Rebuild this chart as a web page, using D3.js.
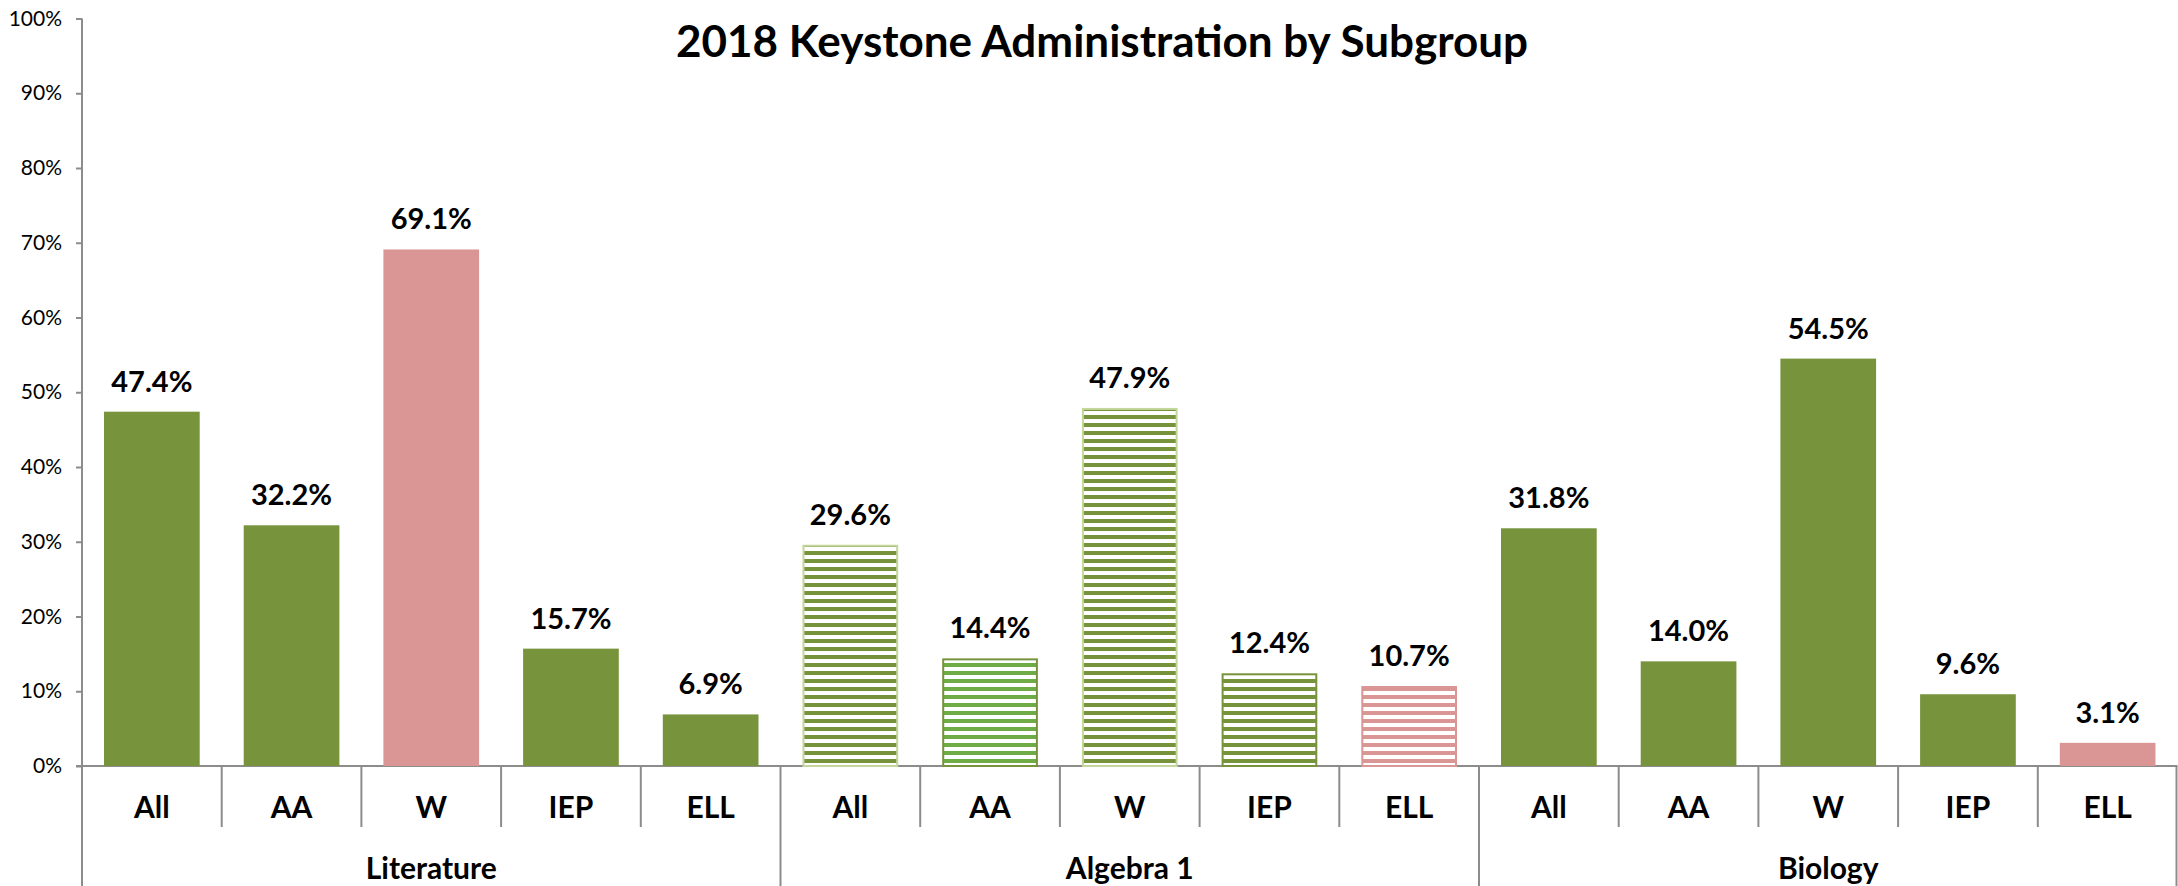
<!DOCTYPE html>
<html>
<head>
<meta charset="utf-8">
<script src="https://cdn.jsdelivr.net/npm/d3@7"></script>
<style>
  body { margin: 0; background: #fff; }
  svg { display: block; }
</style>
</head>
<body>
<div id="chart"></div>
<script>
// data
var groups = ["Literature", "Algebra 1", "Biology"];
var subgroups = ["All", "AA", "W", "IEP", "ELL"];
var literature = [47.4, 32.2, 69.1, 15.7, 6.9];
var algebra = [29.6, 14.4, 47.9, 12.4, 10.7];
var biology = [31.8, 14.0, 54.5, 9.6, 3.1];
var yTicks = [0, 10, 20, 30, 40, 50, 60, 70, 80, 90, 100];

// styles
var olive = "#77933c";
var pink = "#d99694";
var lightGreen = "#c3d69b";
var brightGreen = "#6fac46";
var axisColor = "#8c8c8c";
var fontFamily = "Lato, 'Open Sans', sans-serif";

// which bars are striped, and their colours (by group/subgroup)
var stripeColor = {"All": olive, "AA": brightGreen, "W": olive, "IEP": olive, "ELL": pink};
var stripeBorder = {"All": lightGreen, "AA": olive, "W": lightGreen, "IEP": olive, "ELL": pink};
var solidColor = function(group, sub){
	if (group == "Literature" && sub == "W") return pink;
	if (group == "Biology" && sub == "ELL") return pink;
	return olive;
};

const width = 2178;
const height = 886;
var plotLeft = 82, plotRight = 2177.5, plotTop = 18.5, base = 766;

var data = [];
[literature, algebra, biology].forEach(function(vals, gi){
	vals.forEach(function(v, si){
		data.push({group: groups[gi], sub: subgroups[si], value: v});
	});
});

var svg = d3.select("#chart")
	.append("svg")
	.attr("width", width)
	.attr("height", height);

var defs = svg.append("defs");
subgroups.forEach(function(s){
	var p = defs.append("pattern")
		.attr("id", "stripe-" + s)
		.attr("patternUnits", "userSpaceOnUse")
		.attr("width", 8).attr("height", 8)
		.attr("y", base % 8);
	p.append("rect").attr("width", 8).attr("height", 8).attr("fill", "#fff");
	p.append("rect").attr("y", 1).attr("width", 8).attr("height", 4).attr("fill", stripeColor[s]);
});

// scales
var y = d3.scaleLinear().domain([0, 100]).range([base, plotTop]);
var x0 = d3.scaleBand().domain(groups).range([plotLeft, plotRight]).padding(0);
var x1 = d3.scaleBand().domain(subgroups).range([0, x0.bandwidth()])
	.paddingInner(0.315).paddingOuter(0.1575);
var step = x0.bandwidth() / subgroups.length;

// title
svg.append("text")
	.attr("x", 1102).attr("y", 57)
	.attr("text-anchor", "middle")
	.style("font-family", fontFamily)
	.style("font-weight", "bold")
	.style("font-size", "44px")
	.text("2018 Keystone Administration by Subgroup");

// y axis
var yAxis = svg.append("g")
	.attr("transform", "translate(" + plotLeft + ",0)")
	.call(d3.axisLeft(y).tickValues(yTicks).tickSize(6).tickPadding(14)
		.tickFormat(function(d){ return d + "%"; }));
yAxis.select(".domain").remove();
yAxis.selectAll(".tick line").attr("stroke", axisColor).attr("stroke-width", 2);
yAxis.selectAll(".tick text")
	.style("font-family", fontFamily)
	.style("font-size", "21px")
	.attr("fill", "#000");

var lines = svg.append("g").attr("stroke", axisColor).attr("stroke-width", 2);
lines.append("line").attr("x1", plotLeft).attr("x2", plotLeft).attr("y1", plotTop).attr("y2", height);
lines.append("line").attr("x1", plotLeft - 6).attr("x2", plotRight).attr("y1", base).attr("y2", base);
lines.append("line").attr("x1", plotRight - 1).attr("x2", plotRight - 1).attr("y1", base).attr("y2", height);

groups.forEach(function(g){
	if (x0(g) > plotLeft) {
		lines.append("line").attr("x1", x0(g)).attr("x2", x0(g)).attr("y1", base).attr("y2", height);
	}
	for (var i = 1; i < subgroups.length; i++) {
		var xx = x0(g) + i * step;
		lines.append("line").attr("x1", xx).attr("x2", xx).attr("y1", base).attr("y2", 827);
	}
});

// bars
var bars = svg.append("g");
bars.selectAll("rect")
	.data(data)
	.enter().append("rect")
	.attr("x", function(d){ return x0(d.group) + x1(d.sub) + (d.group == "Algebra 1" ? 1 : 0); })
	.attr("y", function(d){ return y(d.value) + (d.group == "Algebra 1" ? 1 : 0); })
	.attr("width", function(d){ return x1.bandwidth() - (d.group == "Algebra 1" ? 2 : 0); })
	.attr("height", function(d){ return base - y(d.value) - (d.group == "Algebra 1" ? 1 : 0); })
	.attr("fill", function(d){
		return d.group == "Algebra 1" ? "url(#stripe-" + d.sub + ")" : solidColor(d.group, d.sub);
	})
	.attr("stroke", function(d){ return d.group == "Algebra 1" ? stripeBorder[d.sub] : "none"; })
	.attr("stroke-width", 2);

// value labels
svg.append("g").selectAll("text")
	.data(data)
	.enter().append("text")
	.attr("x", function(d){ return x0(d.group) + x1(d.sub) + x1.bandwidth() / 2; })
	.attr("y", function(d){ return y(d.value) - 20; })
	.attr("text-anchor", "middle")
	.style("font-family", fontFamily)
	.style("font-weight", "bold")
	.style("font-size", "29px")
	.text(function(d){ return d.value.toFixed(1) + "%"; });

// category labels
svg.append("g").selectAll("text")
	.data(data)
	.enter().append("text")
	.attr("x", function(d){ return x0(d.group) + x1(d.sub) + x1.bandwidth() / 2; })
	.attr("y", 818)
	.attr("text-anchor", "middle")
	.style("font-family", fontFamily)
	.style("font-weight", "bold")
	.style("font-size", "30px")
	.text(function(d){ return d.sub; });

// group labels
svg.append("g").selectAll("text")
	.data(groups)
	.enter().append("text")
	.attr("x", function(d){ return x0(d) + x0.bandwidth() / 2; })
	.attr("y", 879)
	.attr("text-anchor", "middle")
	.style("font-family", fontFamily)
	.style("font-weight", "bold")
	.style("font-size", "30px")
	.text(function(d){ return d; });
</script>
</body>
</html>
